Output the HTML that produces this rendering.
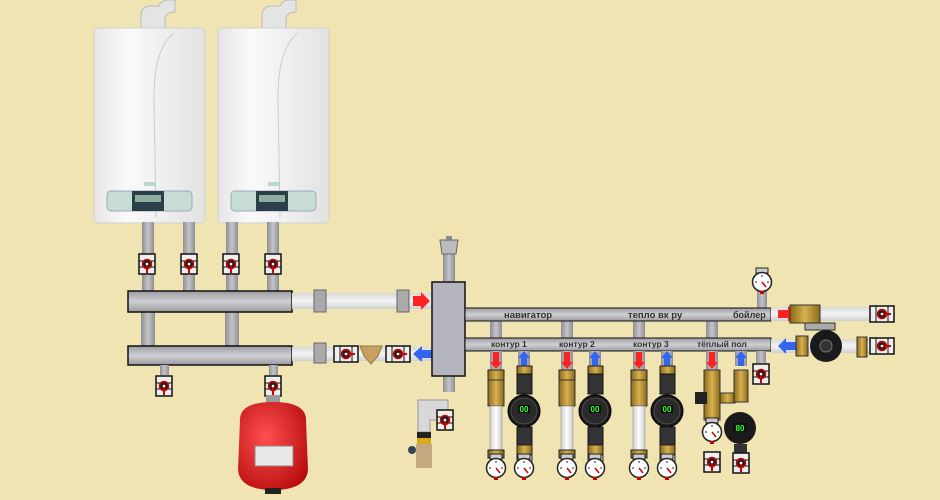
<!DOCTYPE html>
<html><head><meta charset="utf-8"><style>
html,body{margin:0;padding:0;background:#F0E4B2;}
svg{display:block}
text{font-family:"Liberation Sans",sans-serif;font-weight:bold;fill:#333;}
</style></head><body>
<svg width="940" height="500" viewBox="0 0 940 500" xmlns="http://www.w3.org/2000/svg">
<defs>
<linearGradient id="pv" x1="0" x2="1"><stop offset="0" stop-color="#8e8e94"/><stop offset=".5" stop-color="#c4c4c8"/><stop offset="1" stop-color="#8e8e94"/></linearGradient>
<linearGradient id="ph" x1="0" y1="0" x2="0" y2="1"><stop offset="0" stop-color="#9a9aa0"/><stop offset=".5" stop-color="#d0d0d4"/><stop offset="1" stop-color="#9a9aa0"/></linearGradient>
<linearGradient id="wh" x1="0" y1="0" x2="0" y2="1"><stop offset="0" stop-color="#d8d8d8"/><stop offset=".5" stop-color="#f4f4f4"/><stop offset="1" stop-color="#cfcfcf"/></linearGradient>
<linearGradient id="wv" x1="0" x2="1"><stop offset="0" stop-color="#d0d0d0"/><stop offset=".5" stop-color="#ffffff"/><stop offset="1" stop-color="#c8c8c8"/></linearGradient>
<linearGradient id="br" x1="0" x2="1"><stop offset="0" stop-color="#8a6a1a"/><stop offset=".5" stop-color="#d8b050"/><stop offset="1" stop-color="#8a6a1a"/></linearGradient>
<linearGradient id="boil" x1="0" x2="1"><stop offset="0" stop-color="#e6e6e6"/><stop offset=".3" stop-color="#fafafa"/><stop offset="1" stop-color="#e2e2e2"/></linearGradient>
<radialGradient id="tank" cx=".4" cy=".4" r=".7"><stop offset="0" stop-color="#ff5050"/><stop offset="1" stop-color="#b80c0c"/></radialGradient>
<g id="valve"><rect x="-8" y="-10" width="16" height="20" fill="#eee" stroke="#111" stroke-width="1.5"/><line x1="-8" y1="-3" x2="8" y2="-3" stroke="#111"/><line x1="-8" y1="3" x2="8" y2="3" stroke="#111"/><circle r="4.5" fill="#222" stroke="#c00" stroke-width="1.5"/><line x1="0" y1="0" x2="0" y2="9" stroke="#c00" stroke-width="2"/><circle r="1.3" fill="#fff"/></g>
<g id="hvalve"><rect x="-12" y="-8" width="24" height="16" fill="#eee" stroke="#111" stroke-width="1.5"/><line x1="-6" y1="-8" x2="-6" y2="8" stroke="#111"/><line x1="6" y1="-8" x2="6" y2="8" stroke="#111"/><circle r="4.5" fill="#222" stroke="#c00" stroke-width="1.5"/><line x1="0" y1="0" x2="9" y2="0" stroke="#c00" stroke-width="2"/><circle r="1.3" fill="#fff"/></g>
<g id="gauge"><rect x="-6" y="-14" width="12" height="5" fill="#ccc" stroke="#222"/><circle r="9.5" fill="#fff" stroke="#222" stroke-width="1.5"/><line x1="0" y1="0" x2="4" y2="5" stroke="#c00" stroke-width="1.5"/><line x1="0" y1="-7" x2="0" y2="-5" stroke="#222"/><line x1="-7" y1="0" x2="-5" y2="0" stroke="#222"/><line x1="7" y1="0" x2="5" y2="0" stroke="#222"/><rect x="-2" y="9" width="4" height="3" fill="#c00"/></g>
<g id="pump"><rect x="-7" y="-45" width="15" height="8" fill="url(#br)" stroke="#222"/><rect x="-7" y="-37" width="15" height="20" fill="#333" stroke="#111"/><circle r="16" fill="#1a1a1a" stroke="#000"/><circle r="13" fill="#2a2a2a" stroke="#555" stroke-width=".8"/><rect x="-6" y="-6" width="12" height="8" fill="#111"/><text x="0" y="1" font-size="8" text-anchor="middle" style="fill:#3f3">00</text><rect x="-7" y="16" width="15" height="18" fill="#333" stroke="#111"/><rect x="-7" y="34" width="15" height="10" fill="url(#br)" stroke="#222"/><rect x="-7" y="44" width="15" height="6" fill="#ddd" stroke="#222"/></g>
<g id="sup"><rect x="-8" y="0" width="16" height="10" fill="url(#br)" stroke="#222"/><rect x="-8" y="10" width="16" height="26" fill="url(#br)" stroke="#333"/><rect x="-6" y="36" width="12" height="44" fill="url(#wv)" stroke="#888" stroke-width=".5"/><rect x="-8" y="80" width="16" height="8" fill="url(#br)" stroke="#222"/></g>
<g id="boiler"><rect x="0" y="0" width="111" height="195" rx="4" fill="url(#boil)" stroke="#d0d0d0"/><path d="M80 5 Q60 20 60 70 L62 190" fill="none" stroke="#ccc"/><rect x="13" y="163" width="85" height="20" rx="4" fill="#c8dcd6" stroke="#9ab"/><rect x="38" y="163" width="32" height="20" fill="#2b3f48"/><rect x="41" y="167" width="26" height="7" fill="#8fb0a0"/><rect x="50" y="154" width="12" height="4" fill="#b8d8c8"/></g>
<g id="flue"><path d="M2 28 L2 16 Q2 6 12 6 L20 6 Q22 0 30 0 L36 0 L36 12 Q26 12 26 20 L26 28 Z" fill="#e4e4e4" stroke="#bbb"/></g>
</defs>

<use href="#flue" x="139" y="0"/><use href="#flue" x="260" y="0"/>
<use href="#boiler" x="94" y="28"/><use href="#boiler" x="218" y="28"/>
<rect x="142" y="222" width="12" height="70" fill="url(#pv)"/><rect x="183" y="222" width="12" height="70" fill="url(#pv)"/>
<rect x="226" y="222" width="12" height="70" fill="url(#pv)"/><rect x="267" y="222" width="12" height="70" fill="url(#pv)"/>
<use href="#valve" x="147" y="264"/><use href="#valve" x="189" y="264"/><use href="#valve" x="231" y="264"/><use href="#valve" x="273" y="264"/>
<rect x="141" y="312" width="14" height="34" fill="url(#pv)"/><rect x="225" y="312" width="14" height="34" fill="url(#pv)"/>
<rect x="128" y="291" width="164" height="21" fill="url(#ph)" stroke="#111" stroke-width="1.5"/>
<rect x="128" y="346" width="164" height="19" fill="url(#ph)" stroke="#111" stroke-width="1.5"/>
<rect x="160" y="365" width="9" height="10" fill="url(#pv)"/><rect x="269" y="365" width="9" height="10" fill="url(#pv)"/>
<use href="#valve" x="164" y="386"/><use href="#valve" x="273" y="386"/>
<rect x="266" y="395" width="14" height="8" fill="#999"/>
<path d="M240 420 Q240 402 273 402 Q306 402 306 420 L308 470 Q306 490 273 490 Q240 490 238 470 Z" fill="url(#tank)"/>
<rect x="255" y="446" width="38" height="20" fill="#e8e8e8" stroke="#888"/>
<rect x="265" y="488" width="16" height="6" fill="#222"/>
<rect x="292" y="293" width="140" height="16" fill="url(#wh)"/>
<rect x="314" y="290" width="12" height="22" fill="#aaa" stroke="#666"/><rect x="397" y="290" width="12" height="22" fill="#aaa" stroke="#666"/>
<path d="M413 296 h8 v-4 l9 9 l-9 9 v-4 h-8 z" fill="#f22"/>
<rect x="292" y="347" width="140" height="14" fill="url(#wh)"/>
<rect x="314" y="343" width="12" height="20" fill="#aaa" stroke="#666"/>
<use href="#hvalve" x="346" y="354"/>
<path d="M360 346 h22 l-4 10 l-7 8 l-7 -8 z" fill="#c8a060" stroke="#9a7a40"/>
<use href="#hvalve" x="398" y="354"/>
<path d="M432 350 h-10 v-4 l-9 8 l9 8 v-4 h10 z" fill="#36e"/>
<rect x="443" y="250" width="12" height="32" fill="url(#pv)"/>
<path d="M440 240 h18 l-2 14 h-14 z" fill="#bbb" stroke="#666"/><rect x="446" y="236" width="6" height="5" fill="#888"/>
<rect x="443" y="376" width="12" height="16" fill="url(#pv)"/>
<rect x="432" y="282" width="33" height="94" fill="#b4b4bc" stroke="#111" stroke-width="1.5"/>
<path d="M418 400 h30 v20 h-18 v12 h-12 z" fill="#d8d8d8" stroke="#999"/>
<use href="#valve" x="445" y="420"/>
<rect x="417" y="432" width="14" height="6" fill="#222"/><rect x="417" y="438" width="14" height="6" fill="#d8a820"/>
<path d="M416 444 h16 v24 h-16 z" fill="#c4a880"/><circle cx="412" cy="450" r="4" fill="#345"/>
<rect x="490" y="321" width="12" height="17" fill="url(#pv)"/><rect x="561" y="321" width="12" height="17" fill="url(#pv)"/>
<rect x="633" y="321" width="12" height="17" fill="url(#pv)"/><rect x="706" y="321" width="12" height="17" fill="url(#pv)"/>
<rect x="757" y="285" width="10" height="23" fill="url(#pv)"/><use href="#gauge" x="762" y="282"/>
<rect x="465" y="308" width="306" height="13" fill="url(#ph)" stroke="#111"/>
<rect x="465" y="338" width="306" height="13" fill="url(#ph)" stroke="#111"/>
<text x="504" y="318" font-size="9.5">навигатор</text>
<text x="628" y="318" font-size="9.5">тепло вк ру</text>
<text x="733" y="318" font-size="9">бойлер</text>
<text x="491" y="347" font-size="8.5">контур 1</text>
<text x="559" y="347" font-size="8.5">контур 2</text>
<text x="633" y="347" font-size="8.5">контур 3</text>
<text x="697" y="347" font-size="8.5">тёплый пол</text>
<g id="c1">
<rect x="490" y="351" width="12" height="19" fill="url(#pv)"/><path d="M493 352 h6 v10 h3 l-6 7 l-6 -7 h3z" fill="#f22"/>
<rect x="518" y="351" width="12" height="15" fill="url(#pv)"/><path d="M521 366 h6 v-8 h3 l-6 -7 l-6 7 h3z" fill="#36e"/>
<use href="#sup" x="496" y="370"/><use href="#gauge" x="496" y="468"/>
<use href="#pump" x="524" y="411"/><use href="#gauge" x="524" y="468"/>
</g>
<use href="#c1" x="71" y="0"/><use href="#c1" x="143" y="0"/>
<rect x="706" y="351" width="12" height="19" fill="url(#pv)"/><path d="M709 352 h6 v10 h3 l-6 7 l-6 -7 h3z" fill="#f22"/>
<rect x="735" y="351" width="12" height="15" fill="url(#pv)"/><path d="M738 366 h6 v-8 h3 l-6 -7 l-6 7 h3z" fill="#36e"/>
<rect x="704" y="370" width="16" height="50" fill="url(#br)" stroke="#333"/><rect x="695" y="392" width="12" height="12" fill="#222"/>
<rect x="720" y="393" width="15" height="10" fill="url(#br)" stroke="#333"/>
<rect x="734" y="370" width="14" height="32" fill="url(#br)" stroke="#333"/>
<circle cx="740" cy="428" r="16" fill="#1a1a1a"/><rect x="733" y="423" width="14" height="9" fill="#111"/><text x="740" y="431" font-size="8" text-anchor="middle" style="fill:#3f3">80</text>
<rect x="734" y="444" width="13" height="10" fill="#333"/>
<use href="#gauge" x="712" y="432"/><use href="#valve" x="712" y="462"/><use href="#valve" x="741" y="463"/>
<rect x="756" y="351" width="10" height="12" fill="url(#pv)"/><use href="#valve" x="761" y="374"/>
<rect x="771" y="307" width="120" height="14" fill="url(#wh)"/>
<path d="M778 310 h10 v-4 l8 8 l-8 8 v-4 h-10z" fill="#f22"/>
<rect x="790" y="305" width="30" height="18" fill="url(#br)" stroke="#333"/>
<use href="#hvalve" x="882" y="314"/>
<rect x="771" y="339" width="120" height="14" fill="url(#wh)"/>
<path d="M796 342 h-10 v-4 l-8 8 l8 8 v-4 h10z" fill="#36e"/>
<rect x="796" y="336" width="12" height="20" fill="url(#br)" stroke="#333"/>
<rect x="805" y="323" width="30" height="7" fill="#aaa" stroke="#333"/>
<circle cx="826" cy="346" r="16" fill="#1a1a1a"/><circle cx="826" cy="346" r="6" fill="#333" stroke="#777"/>
<rect x="857" y="337" width="10" height="20" fill="url(#br)" stroke="#333"/>
<use href="#hvalve" x="882" y="346"/>
</svg>
</body></html>
